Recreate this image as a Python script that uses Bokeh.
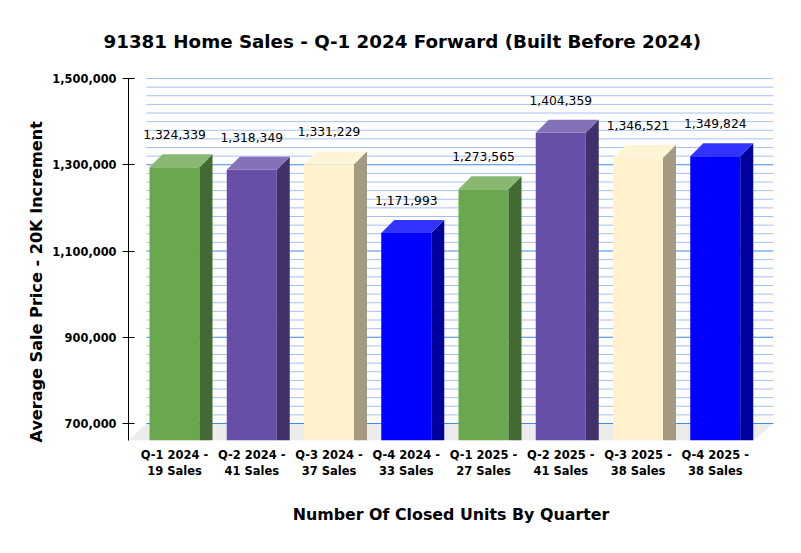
from bokeh.plotting import figure
from bokeh.embed import file_html
from bokeh.resources import INLINE
from bokeh.models import Title, FixedTicker
from bokeh.core.properties import value

quarters = ["Q-1 2024 -\n19 Sales", "Q-2 2024 -\n41 Sales", "Q-3 2024 -\n37 Sales", "Q-4 2024 -\n33 Sales",
            "Q-1 2025 -\n27 Sales", "Q-2 2025 -\n41 Sales", "Q-3 2025 -\n38 Sales", "Q-4 2025 -\n38 Sales"]
prices = [1324339, 1318349, 1331229, 1171993, 1273565, 1404359, 1346521, 1349824]
price_labels = ["1,324,339", "1,318,349", "1,331,229", "1,171,993", "1,273,565", "1,404,359", "1,346,521", "1,349,824"]
front_colors = ["#6AA84F", "#674EA7", "#FFF2CC", "#0000FF"] * 2
top_colors = ["#88B872", "#8571B8", "#FFF5D6", "#3333FF"] * 2
side_colors = ["#436A32", "#41316A", "#A39A81", "#00009F"] * 2
major_ticks = [700000, 900000, 1100000, 1300000, 1500000]
tick_labels = {700000: "700,000", 900000: "900,000", 1100000: "1,100,000", 1300000: "1,300,000", 1500000: "1,500,000"}
minor_step = 20000

# pixel scales of the reference
PX_X = 77.25           # px per category
PX_Y = 200000 / 86.25  # value per px
X0 = (128 - 174) / PX_X
X1 = (773 - 174) / PX_X
Y_LOW = 700000 - 17 * PX_Y
Y_HIGH = 1500000
BAR_W = 50 / PX_X
DX = 13 / PX_X
DY = 13 * PX_Y

p = figure(width=800, height=552, output_backend="svg", toolbar_location=None,
           x_range=(X0, X1), y_range=(Y_LOW, Y_HIGH),
           min_border_left=128, min_border_right=27, min_border_top=78, min_border_bottom=112,
           outline_line_color=None, background_fill_color="white")
p.grid.visible = False

# floor
wall_x = X0 + 18 / PX_X
p.patch([X0, wall_x, X1, X1 - 20 / PX_X], [Y_LOW, 700000, 700000, Y_LOW], fill_color="#ECECEC", line_color=None)

# wall grid
levels = list(range(700000, 1500001, minor_step))
minor = [v for v in levels if v not in major_ticks]
p.segment([wall_x] * len(minor), minor, [X1] * len(minor), minor, line_color="#A3C2F2", line_width=1)
p.segment([wall_x] * len(major_ticks), major_ticks, [X1] * len(major_ticks), major_ticks, line_color="#3D8BEA", line_width=1)

# bars
for i, v in enumerate(prices):
    l, r = i - BAR_W / 2, i + BAR_W / 2
    p.quad(left=l, right=r, bottom=Y_LOW, top=v - DY, fill_color=front_colors[i], line_color=None)
    p.patch([r, r + DX, r + DX, r], [v - DY, v, Y_LOW, Y_LOW], fill_color=side_colors[i], line_color=None)
    p.patch([l, l + DX, r + DX, r], [v - DY, v, v, v - DY], fill_color=top_colors[i], line_color=None)

# value labels
p.text(list(range(len(prices))), prices, text=price_labels, y_offset=-19.5,
       text_align="center", text_baseline="middle", text_color="black",
       text_font=value("DejaVu Sans"), text_font_size="12.3px")

# axes
p.yaxis.ticker = FixedTicker(ticks=major_ticks)
p.yaxis.major_label_overrides = tick_labels
p.yaxis.major_label_text_font = "DejaVu Sans"
p.yaxis.major_label_text_font_style = "bold"
p.yaxis.major_label_text_font_size = "11.4px"
p.yaxis.major_label_text_color = "black"
p.yaxis.major_label_standoff = 6
p.yaxis.major_tick_in = 6
p.yaxis.major_tick_out = 6
p.yaxis.minor_tick_line_color = None
p.yaxis.axis_line_color = "black"
p.yaxis.major_tick_line_color = "black"

p.xaxis.ticker = FixedTicker(ticks=list(range(len(quarters))))
p.xaxis.major_label_overrides = {i: q for i, q in enumerate(quarters)}
p.xaxis.major_label_text_font = "DejaVu Sans"
p.xaxis.major_label_text_font_style = "bold"
p.xaxis.major_label_text_font_size = "11.5px"
p.xaxis.major_label_text_color = "black"
p.xaxis.major_label_standoff = 1
p.xaxis.axis_line_color = None
p.xaxis.major_tick_line_color = None
p.xaxis.minor_tick_line_color = None
p.xaxis.axis_label = "Number Of Closed Units By Quarter"
p.xaxis.axis_label_text_font = "DejaVu Sans"
p.xaxis.axis_label_text_font_style = "bold"
p.xaxis.axis_label_text_font_size = "15.85px"
p.xaxis.axis_label_text_color = "black"
p.xaxis.axis_label_standoff = 24

p.add_layout(Title(text="Average Sale Price - 20K Increment", align="left", offset=-2,
                   text_font="DejaVu Sans", text_font_style="bold", text_font_size="16.1px", text_color="black", standoff=7), "left")
p.add_layout(Title(text="91381 Home Sales - Q-1 2024 Forward (Built Before 2024)", align="left", offset=-25,
                   text_font="DejaVu Sans", text_font_style="bold", text_font_size="18.25px", text_color="black", standoff=54), "above")

open("out.html", "w").write(file_html(p, INLINE))
